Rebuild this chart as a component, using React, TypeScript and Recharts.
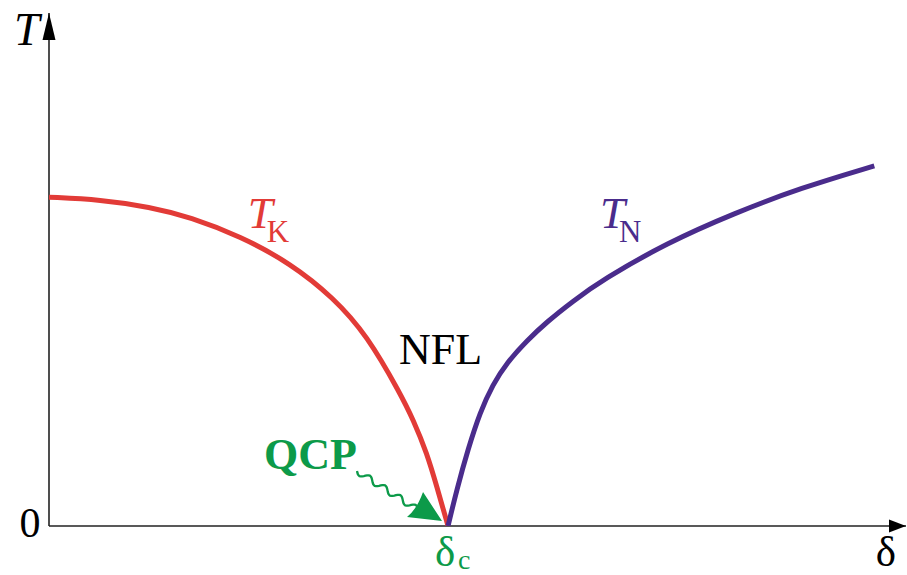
import { LineChart, Line, XAxis, YAxis, ReferenceLine, ReferenceDot } from 'recharts';

// T_K branch (Kondo scale) in arbitrary units
const kondoDelta = [0, 0.6, 1.18, 1.65, 2.23, 2.82, 3.32, 3.71, 4.1, 4.25, 4.41, 4.53, 4.656];
const kondoT = [6.41, 6.36, 6.22, 6.02, 5.65, 5.12, 4.45, 3.72, 2.58, 2.07, 1.42, 0.74, 0];

// T_N branch (Néel temperature)
const neelDelta = [4.656, 4.76, 4.89, 5.03, 5.18, 5.34, 5.58, 5.81, 6.11, 6.46, 7.21, 8.0, 8.77, 9.63];
const neelT = [0, 0.72, 1.5, 2.22, 2.76, 3.18, 3.62, 3.98, 4.38, 4.8, 5.52, 6.1, 6.59, 7.02];

const deltaC = 4.656;
const axisMax = 10;

const kondoData = kondoDelta.map((d, i) => ({ d, t: kondoT[i] }));
const neelData = neelDelta.map((d, i) => ({ d, t: neelT[i] }));

const RED = '#e23b37';
const PURPLE = '#4a2c8c';
const GREEN = '#0c9a49';
const FONT = "'Liberation Serif', 'Times New Roman', serif";

const upArrow = ({ cx, cy }: any) => (
  <path d={`M${cx},${cy} L${cx - 6.5},${cy + 27} L${cx + 6.5},${cy + 27} Z`} fill="#000" />
);
const rightArrow = ({ cx, cy }: any) => (
  <path d={`M${cx},${cy} L${cx - 17},${cy - 6.5} L${cx - 17},${cy + 6.5} Z`} fill="#000" />
);

// axis annotations placed relative to the origin
const originLabels = ({ cx, cy }: any) => (
  <g fontFamily={FONT}>
    <text x={cx - 19} y={cy + 11} fontSize={42} textAnchor="middle" fill="#000">0</text>
    <text x={cx - 35} y={cy - 481} fontSize={46} fontStyle="italic" fill="#000">T</text>
    <text x={cx + 837} y={cy + 40} fontSize={43} textAnchor="middle" fill="#000">δ</text>
  </g>
);

// δc label and the wiggly QCP arrow, drawn around the critical point
const qcpMark = ({ cx, cy }: any) => {
  const x0 = cx - 91, y0 = cy - 55;
  const x1 = cx - 30, y1 = cy - 16;
  const dx = x1 - x0, dy = y1 - y0;
  const len = Math.sqrt(dx * dx + dy * dy);
  const nx = -dy / len, ny = dx / len;
  let d = `M${x0},${y0}`;
  for (let i = 1; i <= 60; i++) {
    const s = i / 60;
    const w = 3 * Math.sin(s * Math.PI * 8);
    d += ` L${x0 + dx * s + nx * w},${y0 + dy * s + ny * w}`;
  }
  return (
    <g>
      <path d={d} stroke={GREEN} strokeWidth={2.3} fill="none" />
      <path
        d={`M${cx - 6},${cy - 5} L${cx - 41},${cy - 9} Q${cx - 31},${cy - 17} ${cx - 25},${cy - 34} Z`}
        fill={GREEN}
      />
      <text x={cx - 184} y={cy - 57} fontFamily={FONT} fontSize={44} fontWeight="bold" fill={GREEN}>QCP</text>
      <text x={cx - 13} y={cy + 40} fontFamily={FONT} fontSize={43} fill={GREEN}>δ</text>
      <text x={cx + 10} y={cy + 43} fontFamily={FONT} fontSize={28} fill={GREEN}>c</text>
    </g>
  );
};

const tkLabel = ({ cx, cy }: any) => (
  <g fontFamily={FONT} fill={RED}>
    <text x={cx} y={cy} fontSize={45} fontStyle="italic">T</text>
    <text x={cx + 19} y={cy + 14} fontSize={31}>K</text>
  </g>
);
const tnLabel = ({ cx, cy }: any) => (
  <g fontFamily={FONT} fill={PURPLE}>
    <text x={cx} y={cy} fontSize={45} fontStyle="italic">T</text>
    <text x={cx + 19} y={cy + 14} fontSize={31}>N</text>
  </g>
);
const nflLabel = ({ cx, cy }: any) => (
  <text x={cx} y={cy} fontFamily={FONT} fontSize={44} textAnchor="middle" fill="#000">NFL</text>
);

export default function App() {
  return (
    <div style={{ position: 'absolute', left: 0, top: 0, background: '#fff' }}>
      <LineChart width={907} height={575} margin={{ top: 13, right: 1, bottom: 49, left: 49 }}>
        <XAxis type="number" dataKey="d" domain={[0, axisMax]} hide allowDataOverflow />
        <YAxis type="number" dataKey="t" domain={[0, axisMax]} hide allowDataOverflow />
        <ReferenceLine x={0} stroke="#222" strokeWidth={1.6} ifOverflow="visible" />
        <ReferenceLine y={0} stroke="#222" strokeWidth={1.6} ifOverflow="visible" />
        <Line
          data={kondoData}
          dataKey="t"
          type="basis"
          stroke={RED}
          strokeWidth={5}
          dot={false}
          isAnimationActive={false}
        />
        <Line
          data={neelData}
          dataKey="t"
          type="basis"
          stroke={PURPLE}
          strokeWidth={5}
          dot={false}
          isAnimationActive={false}
        />
        <ReferenceDot x={0} y={axisMax} r={0} shape={upArrow} ifOverflow="visible" />
        <ReferenceDot x={axisMax} y={0} r={0} shape={rightArrow} ifOverflow="visible" />
        <ReferenceDot x={0} y={0} r={0} shape={originLabels} ifOverflow="visible" />
        <ReferenceDot x={deltaC} y={0} r={0} shape={qcpMark} ifOverflow="visible" />
        <ReferenceDot x={2.32} y={5.81} r={0} shape={tkLabel} ifOverflow="visible" />
        <ReferenceDot x={6.43} y={5.81} r={0} shape={tnLabel} ifOverflow="visible" />
        <ReferenceDot x={4.57} y={3.16} r={0} shape={nflLabel} ifOverflow="visible" />
      </LineChart>
    </div>
  );
}
